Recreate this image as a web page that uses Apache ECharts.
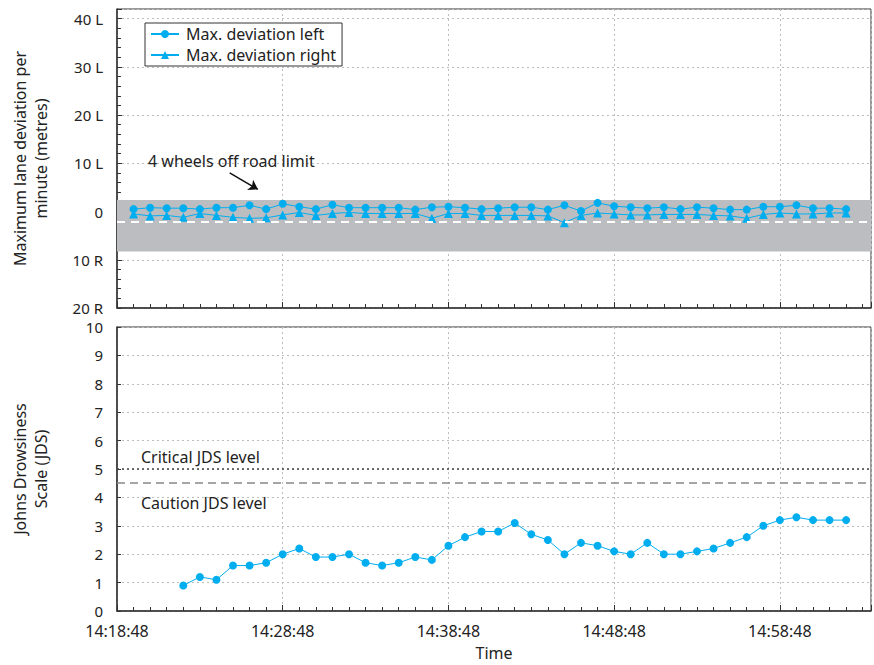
<!DOCTYPE html>
<html>
<head>
<meta charset="utf-8">
<script src="https://cdn.jsdelivr.net/npm/echarts@6/dist/echarts.min.js"></script>
<style>
html, body { margin: 0; padding: 0; background: #fff; }
#chart { width: 874px; height: 665px; }
</style>
</head>
<body>
<div id="chart"></div>
<script>
// start of the time axis
var startTime = '14:18:48';

// one sample per minute, lane deviation panel
var times = ['14:19:48', '14:20:48', '14:21:48', '14:22:48', '14:23:48', '14:24:48', '14:25:48', '14:26:48',
	'14:27:48', '14:28:48', '14:29:48', '14:30:48', '14:31:48', '14:32:48', '14:33:48', '14:34:48',
	'14:35:48', '14:36:48', '14:37:48', '14:38:48', '14:39:48', '14:40:48', '14:41:48', '14:42:48',
	'14:43:48', '14:44:48', '14:45:48', '14:46:48', '14:47:48', '14:48:48', '14:49:48', '14:50:48',
	'14:51:48', '14:52:48', '14:53:48', '14:54:48', '14:55:48', '14:56:48', '14:57:48', '14:58:48',
	'14:59:48', '15:00:48', '15:01:48', '15:02:48'];

// L is positive, R is negative
var devLeft = [0.5, 0.8, 0.7, 0.7, 0.5, 0.8, 0.8, 1.3, 0.5, 1.6, 1.0, 0.5, 1.4, 0.8, 0.8, 0.8, 0.8, 0.4, 0.9, 1.0, 0.8, 0.5,
	0.7, 0.9, 0.9, 0.4, 1.3, 0.1, 1.8, 1.1, 0.9, 0.7, 0.9, 0.5, 0.9, 0.7, 0.4, 0.4, 1.0, 1.0, 1.3, 0.7, 0.7, 0.5];
var devRight = [-0.5, -0.9, -0.8, -1.2, -0.4, -0.8, -1.2, -1.4, -1.3, -0.7, -0.2, -0.8, -0.4, -0.2, -0.4, -0.4, -0.4, -0.4, -1.4, -0.4, -0.4, -0.8,
	-0.8, -0.8, -0.8, -0.9, -2.3, -0.8, -0.3, -0.5, -0.7, -0.7, -0.6, -0.6, -0.6, -0.8, -0.9, -1.4, -0.6, -0.3, -0.5, -0.5, -0.3, -0.3];

// JDS panel starts at 14:22:48
var jdsTimes = times.slice(3);
var jds = [0.9, 1.2, 1.1, 1.6, 1.6, 1.7, 2.0, 2.2, 1.9, 1.9, 2.0, 1.7, 1.6, 1.7, 1.9, 1.8, 2.3, 2.6, 2.8, 2.8,
	3.1, 2.7, 2.5, 2.0, 2.4, 2.3, 2.1, 2.0, 2.4, 2.0, 2.0, 2.1, 2.2, 2.4, 2.6, 3.0, 3.2, 3.3, 3.2, 3.2, 3.2];

// reference levels
var roadBand = [2.4, -8.3];   // 4 wheels off road limit band
var laneLine = -2.2;
var criticalJDS = 5;
var cautionJDS = 4.5;

var yTopTicks = ['20 R', '10 R', '0', '10 L', '20 L', '30 L', '40 L'];

function toSec(s) {
	var p = s.split(':');
	return (+p[0]) * 3600 + (+p[1]) * 60 + (+p[2]);
}
var base = toSec(startTime);

function toMin(s) {
	return (toSec(s) - base) / 60;
}

function pad(n) {
	return (n < 10 ? '0' : '') + n;
}

function fmtTime(v) {
	if (Math.abs(v % 10) > 1e-6) return '';
	var s = base + Math.round(v * 60);
	return Math.floor(s / 3600) + ':' + pad(Math.floor(s / 60) % 60) + ':' + pad(s % 60);
}

function pairs(t, v) {
	return t.map(function(x, i) {
		return [toMin(x), v[i]];
	});
}

var myChart = echarts.init(document.getElementById('chart'), null, { renderer: 'svg' });

var blue = '#00aeef';
var font = 'Noto Sans';
var splitStyle = { show: true, lineStyle: { color: '#bdbdbd', type: [2, 3], width: 1 } };

function xAxisFor(idx) {
	return {
		type: 'value',
		gridIndex: idx,
		min: 0,
		max: 45.5,
		interval: 10,
		axisLine: { show: true, onZero: false, lineStyle: { color: '#333', width: 1.5 } },
		axisTick: { show: true, inside: true, length: 6, lineStyle: { color: '#333' } },
		minorTick: { show: true, splitNumber: 10, length: 4, lineStyle: { color: '#333' } },
		splitLine: splitStyle,
		axisLabel: idx === 1 ? {
			show: true, formatter: fmtTime, fontSize: 16, color: '#222', fontFamily: font, margin: 12,
			showMaxLabel: false
		} : { show: false },
		name: idx === 1 ? 'Time' : '',
		nameLocation: 'middle',
		nameGap: 34,
		nameTextStyle: { fontSize: 16, color: '#222', fontFamily: font }
	};
}

var option = {
	backgroundColor: '#fff',
	animation: false,
	textStyle: { fontFamily: font },
	grid: [
		{ left: 117, right: 3, top: 9, height: 299, show: true, borderColor: '#333', borderWidth: 1 },
		{ left: 117, right: 3, top: 327, height: 284, show: true, borderColor: '#333', borderWidth: 1 }
	],
	legend: {
		left: 145,
		top: 23,
		orient: 'vertical',
		data: ['Max. deviation left', 'Max. deviation right'],
		backgroundColor: '#fff',
		borderColor: '#333',
		borderWidth: 1,
		padding: [3, 6, 3, 5],
		itemWidth: 28,
		itemHeight: 10,
		itemGap: 5,
		textStyle: { fontSize: 16, color: '#222', fontFamily: font, padding: [0, 0, 0, 2] }
	},
	xAxis: [xAxisFor(0), xAxisFor(1)],
	yAxis: [{
		type: 'value',
		gridIndex: 0,
		min: -20,
		max: 42,
		interval: 10,
		axisLine: { show: true, lineStyle: { color: '#333', width: 1.5 } },
		axisTick: { show: true, inside: true, length: 5, lineStyle: { color: '#333' } },
		minorTick: { show: true, splitNumber: 5, length: 4, lineStyle: { color: '#333' } },
		splitLine: splitStyle,
		axisLabel: {
			fontSize: 15, color: '#222', fontFamily: font, margin: 14,
			formatter: function(v) {
				if (v % 10 !== 0) return '';
				return yTopTicks[(v + 20) / 10];
			}
		},
		name: 'Maximum lane deviation per\nminute (metres)',
		nameLocation: 'middle',
		nameGap: 66,
		nameTextStyle: { fontSize: 16, color: '#222', fontFamily: font, lineHeight: 21 }
	}, {
		type: 'value',
		gridIndex: 1,
		min: 0,
		max: 10,
		interval: 1,
		axisLine: { show: true, lineStyle: { color: '#333', width: 1.5 } },
		axisTick: { show: true, inside: true, length: 4, lineStyle: { color: '#333' } },
		splitLine: splitStyle,
		axisLabel: { fontSize: 15, color: '#222', fontFamily: font, margin: 14 },
		name: 'Johns Drowsiness\nScale (JDS)',
		nameLocation: 'middle',
		nameGap: 66,
		nameTextStyle: { fontSize: 16, color: '#222', fontFamily: font, lineHeight: 21 }
	}],
	series: [{
		name: 'Max. deviation left',
		type: 'line',
		xAxisIndex: 0,
		yAxisIndex: 0,
		symbol: 'circle',
		symbolSize: 8,
		color: blue,
		lineStyle: { width: 1, color: blue },
		data: pairs(times, devLeft),
		z: 5,
		markArea: {
			silent: true,
			itemStyle: { color: '#bcbdc1' },
			data: [[{ yAxis: roadBand[0] }, { yAxis: roadBand[1] }]]
		},
		markLine: {
			silent: true,
			symbol: 'none',
			label: { show: false },
			lineStyle: { color: '#fff', type: [8, 6], width: 2 },
			data: [{ yAxis: laneLine }]
		}
	}, {
		name: 'Max. deviation right',
		type: 'line',
		xAxisIndex: 0,
		yAxisIndex: 0,
		symbol: 'triangle',
		symbolSize: 9,
		color: blue,
		lineStyle: { width: 1, color: blue },
		data: pairs(times, devRight),
		z: 4,
		markLine: {
			silent: true,
			symbol: ['none', 'arrow'],
			symbolSize: 9,
			label: { show: false },
			lineStyle: { color: '#111', type: 'solid', width: 1.5 },
			data: [[{ coord: [6.8, 8.0] }, { coord: [8.5, 4.6] }]]
		},
		markPoint: {
			silent: true,
			symbol: 'rect',
			symbolSize: [1, 1],
			itemStyle: { color: 'rgba(0,0,0,0)' },
			label: {
				show: true, position: 'inside', formatter: '4 wheels off road limit',
				fontSize: 16, color: '#222', fontFamily: font
			},
			data: [{ coord: [6.9, 10.4] }]
		}
	}, {
		name: 'JDS',
		type: 'line',
		xAxisIndex: 1,
		yAxisIndex: 1,
		symbol: 'circle',
		symbolSize: 8,
		color: blue,
		lineStyle: { width: 1, color: blue },
		data: pairs(jdsTimes, jds),
		markLine: {
			silent: true,
			symbol: 'none',
			data: [{
				yAxis: criticalJDS,
				lineStyle: { color: '#444', type: [2, 3], width: 1.5 },
				label: {
					show: true, position: 'insideStartTop', formatter: 'Critical JDS level',
					fontSize: 16, color: '#222', fontFamily: font, distance: [24, 4]
				}
			}, {
				yAxis: cautionJDS,
				lineStyle: { color: '#888', type: [8, 5], width: 1.5 },
				label: {
					show: true, position: 'insideStartBottom', formatter: 'Caution JDS level',
					fontSize: 16, color: '#222', fontFamily: font, distance: [24, 12]
				}
			}]
		}
	}]
};

myChart.setOption(option);
</script>
</body>
</html>
